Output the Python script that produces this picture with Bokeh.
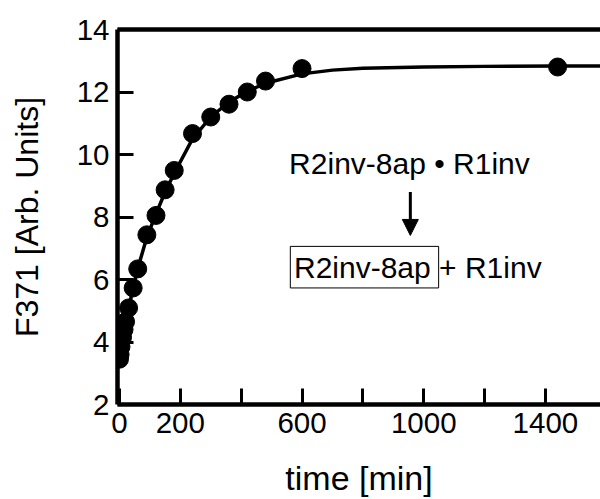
from bokeh.plotting import figure
from bokeh.models import LinearAxis, FixedTicker, Range1d, Label, Arrow, NormalHead, BoxAnnotation
from bokeh.embed import file_html
from bokeh.resources import INLINE

# measured data (time in min, fluorescence F371)
time_min = [0, 2, 5, 10, 15, 20, 30, 45, 60, 90, 120, 150, 180, 240, 300, 360, 420, 480, 600, 1440]
f371 = [3.45, 3.6, 3.85, 4.15, 4.4, 4.65, 5.09, 5.73, 6.34, 7.43, 8.05, 8.87, 9.49, 10.67, 11.20, 11.61, 12.0, 12.35, 12.75, 12.80]

# fitted curve
fit_t = [0, 10, 20, 30, 45, 60, 90, 120, 150, 180, 240, 300, 360, 420, 480, 600, 700, 800, 1000, 1200, 1440, 1600]
fit_y = [3.4, 4.0, 4.55, 5.05, 5.75, 6.35, 7.35, 8.1, 8.8, 9.4, 10.5, 11.2, 11.68, 12.02, 12.28, 12.58, 12.7, 12.76, 12.8, 12.82, 12.83, 12.83]

x_ticks = [0, 200, 400, 600, 800, 1000, 1200, 1400]
x_hidden_labels = [400, 800, 1200]
y_ticks = [2, 4, 6, 8, 10, 12, 14]

FONT = "Liberation Sans"

p = figure(width=600, height=499, output_backend="svg", toolbar_location=None,
           x_range=Range1d(-6.5, 1581), y_range=Range1d(2, 14),
           min_border_left=117, min_border_right=0, min_border_top=29, min_border_bottom=95,
           background_fill_color="white", border_fill_color="white")
p.outline_line_color = None
p.grid.visible = False

p.line(fit_t, fit_y, line_color="black", line_width=3.5)
p.scatter(time_min, f371, size=18, fill_color="black", line_color="black")

def style_axis(ax):
    ax.axis_line_width = 4.5
    ax.axis_line_color = "black"
    ax.major_tick_line_width = 3
    ax.major_tick_line_color = "black"
    ax.major_tick_in = 16
    ax.major_tick_out = 0
    ax.minor_tick_line_color = None
    ax.major_label_text_font = FONT
    ax.major_label_text_font_size = "29.5px"
    ax.major_label_text_color = "black"
    ax.axis_label_text_font = FONT
    ax.axis_label_text_font_style = "normal"
    ax.axis_label_text_color = "black"

xa = p.xaxis[0]
style_axis(xa)
xa.ticker = FixedTicker(ticks=x_ticks)
xa.major_label_overrides = {t: "" for t in x_hidden_labels}
xa.axis_label = "time [min]"
xa.axis_label_text_font_size = "34px"
xa.major_label_standoff = 8
xa.axis_label_standoff = 23

ya = p.yaxis[0]
style_axis(ya)
ya.ticker = FixedTicker(ticks=y_ticks)
ya.axis_label = "F371 [Arb. Units]"
ya.axis_label_text_font_size = "32px"
ya.major_label_standoff = 8
ya.axis_label_standoff = 29

top = LinearAxis(ticker=FixedTicker(ticks=[]), axis_line_width=4.5, axis_line_color="black",
                 major_tick_line_color=None, minor_tick_line_color=None,
                 major_label_text_color=None)
p.add_layout(top, "above")

p.add_layout(Label(x=953, y=9.72, text="R2inv-8ap \u2022 R1inv", text_font=FONT,
                   text_font_size="30px", text_align="center", text_baseline="alphabetic",
                   text_color="black"))
p.add_layout(Arrow(x_start=956, y_start=8.8, x_end=956, y_end=7.41, line_width=3, line_color="black",
                   end=NormalHead(size=16, fill_color="black", line_color="black")))
p.add_layout(BoxAnnotation(left=561.5, right=1049, top=7.06, bottom=5.73, fill_color=None,
                           fill_alpha=0, line_color="black", line_width=1, line_alpha=1))
p.add_layout(Label(x=573.6, y=6.40, text="R2inv-8ap + R1inv", text_font=FONT,
                   text_font_size="30px", text_align="left", text_baseline="alphabetic",
                   text_color="black"))

open("out.html", "w").write(file_html(p, INLINE))
